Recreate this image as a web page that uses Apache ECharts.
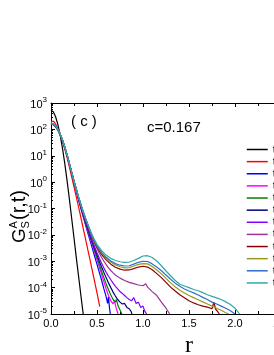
<!DOCTYPE html>
<html><head><meta charset="utf-8">
<script src="https://cdn.jsdelivr.net/npm/echarts@6/dist/echarts.min.js"></script>
<style>html,body{margin:0;padding:0;background:#fff;overflow:hidden}#c{width:274px;height:355px;}</style>
</head><body><div id="c"></div>
<script>
// legend labels (cut off at the right edge in the reference; only "t" visible)
const legendLabels = ['t','t','t','t','t','t','t','t','t','t','t','t'];
const seriesIds = ['s1','s2','s3','s4','s5','s6','s7','s8','s9','s10','s11','s12'];
const colors = ['#000000','#ff0000','#0000ff','#ff00ff','#008000','#000080','#8000ff','#993399','#8b0000','#999922','#2f6fc8','#30a8a8'];
const xTicks = [0.0, 0.5, 1.0, 1.5, 2.0, 2.5, 3.0];
const yTickExponents = [-5,-4,-3,-2,-1,0,1,2,3];

// r values (shared grids)
const rUp = [0,0.025,0.05,0.075,0.1,0.125,0.15,0.175,0.2,0.225,0.25,0.275,0.3,0.325,0.35,0.375,0.4];
const rMid = [0.425,0.45,0.475,0.5];
const rTail = [0.55,0.6,0.65,0.7,0.75,0.8,0.85,0.9,0.95,1.0,1.05,1.1,1.15,1.2,1.25,1.3,1.35,1.4,1.45,1.5,1.55,1.6,1.65,1.7,1.75,1.8,1.85,1.9,1.95,2.0,2.05];

// log10 G_s^A(r,t)
const rBlack = [0,0.025,0.05,0.075,0.1,0.125,0.15,0.175,0.2,0.225,0.25,0.275,0.3,0.325,0.35];
const lgBlack = [2.73,2.67,2.48,2.18,1.78,1.28,0.7,0.05,-0.65,-1.38,-2.12,-2.86,-3.58,-4.3,-5.0];

const rRed = [0,0.015,0.03,0.05,0.075,0.1,0.125,0.15,0.175,0.2,0.225,0.25,0.275,0.3,0.325,0.35,0.375,0.4,0.425,0.45,0.475,0.5,0.53];
const lgRed = [2.3,2.32,2.3,2.2,2.02,1.8,1.55,1.25,0.92,0.57,0.2,-0.18,-0.56,-0.95,-1.35,-1.75,-2.15,-2.56,-2.96,-3.37,-3.78,-4.2,-4.72];

const rBlue = rUp.concat([0.425,0.45,0.475,0.5,0.525,0.55,0.575,0.6,0.615,0.625,0.635,0.645]);
const lgBlue = [2.2,2.18,2.1,1.97,1.79,1.57,1.3,1.0,0.67,0.33,0.0,-0.33,-0.67,-1.0,-1.32,-1.62,-1.92,
  -2.22,-2.52,-2.82,-3.12,-3.42,-3.72,-4.05,-4.35,-4.6,-4.35,-4.75,-5.0];

const rMagenta = rUp.concat([0.425,0.45,0.475,0.5,0.525,0.55,0.575,0.6,0.625,0.65,0.675,0.69,0.71,0.73]);
const lgMagenta = [2.21,2.19,2.11,1.98,1.8,1.58,1.31,1.01,0.68,0.34,0.01,-0.31,-0.65,-0.97,-1.28,-1.57,-1.85,
  -2.13,-2.4,-2.68,-2.95,-3.22,-3.5,-3.78,-4.05,-4.3,-4.5,-4.62,-4.5,-4.8,-5.0];

const rGreen = rUp.concat([0.425,0.45,0.475,0.5,0.525,0.55,0.575,0.6,0.625,0.65,0.675,0.7,0.71,0.73,0.75,0.77]);
const lgGreen = [2.21,2.19,2.11,1.98,1.8,1.58,1.31,1.01,0.68,0.35,0.02,-0.3,-0.64,-0.95,-1.25,-1.53,-1.8,
  -2.07,-2.33,-2.6,-2.86,-3.12,-3.38,-3.62,-3.86,-4.08,-4.28,-4.45,-4.55,-4.45,-4.7,-4.85,-5.0];

const rNavy = rUp.concat([0.425,0.45,0.475,0.5,0.525,0.55,0.575,0.6,0.625,0.65,0.675,0.7,0.725,0.75,0.775,0.8,0.825,0.85,0.87,0.88]);
const lgNavy = [2.22,2.2,2.12,1.99,1.81,1.59,1.32,1.02,0.69,0.36,0.03,-0.29,-0.63,-0.94,-1.23,-1.5,-1.77,
  -2.03,-2.28,-2.52,-2.76,-3.0,-3.22,-3.43,-3.63,-3.82,-4.0,-4.17,-4.32,-4.45,-4.55,-4.62,-4.6,-4.75,-4.8,-4.9,-5.0];

const rViolet = rUp.concat([0.425,0.45,0.475,0.5,0.525,0.55,0.575,0.6,0.625,0.65,0.675,0.7,0.725,0.75,0.775,0.8,0.825,0.85,0.875,0.9,0.925,0.95,0.975,1.0,1.02,1.04]);
const lgViolet = [2.22,2.2,2.12,1.99,1.81,1.59,1.32,1.02,0.69,0.36,0.03,-0.29,-0.62,-0.92,-1.2,-1.46,-1.72,
  -1.98,-2.23,-2.46,-2.68,-2.89,-3.08,-3.26,-3.42,-3.57,-3.7,-3.83,-3.95,-4.05,-4.15,-4.22,-4.3,-4.38,-4.45,-4.5,-4.38,-4.6,-4.55,-4.75,-4.7,-4.9,-5.0];

const rPurple = rUp.concat([0.425,0.45,0.475,0.5,0.525,0.55,0.575,0.6,0.625,0.65,0.675,0.7,0.75,0.8,0.85,0.9,0.95,1.0,1.03,1.05,1.1,1.15,1.2,1.25,1.29]);
const lgPurple = [2.23,2.21,2.12,1.99,1.81,1.59,1.32,1.02,0.69,0.36,0.03,-0.28,-0.6,-0.88,-1.16,-1.42,-1.66,
  -1.9,-2.12,-2.33,-2.52,-2.7,-2.86,-3.0,-3.13,-3.25,-3.35,-3.44,-3.52,-3.64,-3.73,-3.8,-3.85,-3.9,-3.93,-3.85,-3.98,-4.15,-4.3,-4.55,-4.78,-5.0];

const rWine = rUp.concat(rMid, rTail.slice(0, 25), [1.77,1.79,1.81,1.83]);
const lgWine = [2.23,2.21,2.13,2.0,1.82,1.6,1.33,1.03,0.7,0.37,0.04,-0.27,-0.58,-0.86,-1.13,-1.38,-1.62,
  -1.86,-2.08,-2.28,-2.46,
  -2.75,-2.95,-3.11,-3.23,-3.3,-3.34,-3.33,-3.28,-3.22,-3.19,-3.22,-3.32,-3.47,-3.62,-3.8,-3.98,-4.13,-4.27,-4.38,-4.5,-4.58,-4.65,-4.7,-4.74,-4.8,
  -4.55,-4.82,-4.9,-5.0];

const rOlive = rUp.concat(rMid, rTail.slice(0, 28), [1.93]);
const lgOlive = [2.23,2.21,2.13,2.0,1.82,1.6,1.33,1.03,0.7,0.37,0.04,-0.27,-0.57,-0.86,-1.13,-1.38,-1.61,
  -1.85,-2.06,-2.25,-2.42,
  -2.69,-2.88,-3.03,-3.14,-3.21,-3.25,-3.24,-3.18,-3.12,-3.09,-3.1,-3.2,-3.33,-3.48,-3.65,-3.82,-3.97,-4.1,-4.2,-4.3,-4.38,-4.46,-4.54,-4.62,-4.7,-4.78,-4.86,-4.95,
  -5.0];

const rRoyal = rUp.concat(rMid, rTail.slice(0, 30));
const lgRoyal = [2.23,2.21,2.13,2.0,1.82,1.6,1.33,1.03,0.7,0.37,0.04,-0.27,-0.57,-0.85,-1.12,-1.37,-1.6,
  -1.84,-2.05,-2.23,-2.4,
  -2.66,-2.85,-2.99,-3.09,-3.15,-3.18,-3.17,-3.11,-3.04,-3.0,-3.01,-3.1,-3.22,-3.36,-3.52,-3.68,-3.83,-3.95,-4.05,-4.13,-4.2,-4.28,-4.37,-4.45,-4.55,-4.62,-4.7,-4.78,-4.88,-5.0];

const rTeal = rUp.concat(rMid, rTail);
const lgTeal = [2.24,2.22,2.13,2.0,1.82,1.6,1.33,1.03,0.7,0.37,0.04,-0.27,-0.57,-0.85,-1.12,-1.37,-1.6,
  -1.82,-2.02,-2.2,-2.36,
  -2.6,-2.77,-2.89,-2.97,-3.02,-3.04,-3.03,-2.97,-2.89,-2.8,-2.79,-2.86,-2.99,-3.17,-3.37,-3.55,-3.73,-3.87,-3.94,-4.0,-4.07,-4.12,-4.19,-4.27,-4.33,-4.39,-4.45,-4.54,-4.64,-4.78,-5.0];

const allR = [rBlack,rRed,rBlue,rMagenta,rGreen,rNavy,rViolet,rPurple,rWine,rOlive,rRoyal,rTeal];
const allLg = [lgBlack,lgRed,lgBlue,lgMagenta,lgGreen,lgNavy,lgViolet,lgPurple,lgWine,lgOlive,lgRoyal,lgTeal];

const chart = echarts.init(document.getElementById('c'), null, {renderer:'canvas'});
const series = allR.map((r, k) => ({
  name: seriesIds[k], type: 'line', symbol: 'none', clip: true,
  data: r.map((x, i) => [x, Math.pow(10, allLg[k][i])]),
  lineStyle: {color: colors[k], width: 1.2}, itemStyle: {color: colors[k]},
  silent: true, animation: false, z: 2 + k
}));
const axisCol = '#000';
const fontFam = 'Liberation Sans, Arial, sans-serif';
chart.setOption({
  animation: false,
  backgroundColor: '#fff',
  grid: {left: 51, top: 103, width: 276, height: 211, containLabel: false, outerBoundsMode: 'none'},
  xAxis: [{
    type: 'value', min: xTicks[0], max: xTicks[xTicks.length-1], interval: 0.5, position: 'bottom',
    axisLine: {lineStyle: {color: axisCol, width: 1}},
    axisTick: {inside: true, length: 4, lineStyle: {color: axisCol}},
    minorTick: {show: true, splitNumber: 2, length: 3, lineStyle: {color: axisCol}},
    splitLine: {show: false},
    axisLabel: {color: '#000', fontFamily: fontFam, fontSize: 11, margin: 4, formatter: v => v.toFixed(1)},
    name: 'r', nameLocation: 'middle', nameGap: 15,
    nameTextStyle: {fontFamily: 'Liberation Serif, Times New Roman, serif', fontSize: 24, color: '#000'}
  }, {
    type: 'value', min: xTicks[0], max: xTicks[xTicks.length-1], interval: 0.5, position: 'top',
    axisLine: {lineStyle: {color: axisCol, width: 1}},
    axisTick: {inside: true, length: 4, lineStyle: {color: axisCol}},
    minorTick: {show: true, splitNumber: 2, length: 3, lineStyle: {color: axisCol}},
    splitLine: {show: false}, axisLabel: {show: false}
  }],
  yAxis: [{
    type: 'log', logBase: 10, min: Math.pow(10, yTickExponents[0]), max: Math.pow(10, yTickExponents[yTickExponents.length-1]),
    axisLine: {show: true, lineStyle: {color: axisCol, width: 1}},
    axisTick: {inside: true, length: 4, lineStyle: {color: axisCol}},
    minorTick: {show: true, splitNumber: 9, length: 2, lineStyle: {color: axisCol}},
    splitLine: {show: false},
    axisLabel: {
      margin: 4, color: '#000', fontFamily: fontFam,
      formatter: v => { const e = Math.round(Math.log10(v)); return '{b|10}{s|' + e + '}'; },
      rich: {b: {fontSize: 11, fontFamily: fontFam, color: '#000', verticalAlign: 'bottom', lineHeight: 14},
             s: {fontSize: 8, fontFamily: fontFam, color: '#000', verticalAlign: 'top', lineHeight: 14, padding: [0,0,5,0]}}
    }
  }],
  legend: {
    show: true, orient: 'vertical', left: 246, top: 144, itemWidth: 21, itemHeight: 8, itemGap: 1.13,
    padding: 0, selectedMode: false,
    itemStyle: {opacity: 0},
    lineStyle: {width: 1.5},
    data: seriesIds,
    formatter: name => legendLabels[seriesIds.indexOf(name)],
    textStyle: {fontFamily: fontFam, fontSize: 11, color: '#000'}
  },
  graphic: [
    {type: 'text', left: 71, top: 114, style: {text: '( c )', fontFamily: fontFam, fontSize: 15, fill: '#000'}},
    {type: 'text', left: 147, top: 120, style: {text: 'c=0.167', fontFamily: fontFam, fontSize: 15, fill: '#000'}},
    {type: 'group', x: 29, y: 243, rotation: Math.PI / 2, children: [
      {type: 'text', x: 0, y: 0, style: {text: 'G', fontFamily: fontFam, fontSize: 19, fill: '#000', verticalAlign: 'bottom'}},
      {type: 'text', x: 14.5, y: -10, style: {text: 'A', fontFamily: fontFam, fontSize: 11, fill: '#000', verticalAlign: 'bottom'}},
      {type: 'text', x: 14.5, y: 2, style: {text: 'S', fontFamily: fontFam, fontSize: 11, fill: '#000', verticalAlign: 'bottom'}},
      {type: 'text', x: 23, y: 0, style: {text: '(r,t)', fontFamily: fontFam, fontSize: 20, fill: '#000', verticalAlign: 'bottom'}}
    ]}
  ],
  series: series
});
</script>
</body></html>
